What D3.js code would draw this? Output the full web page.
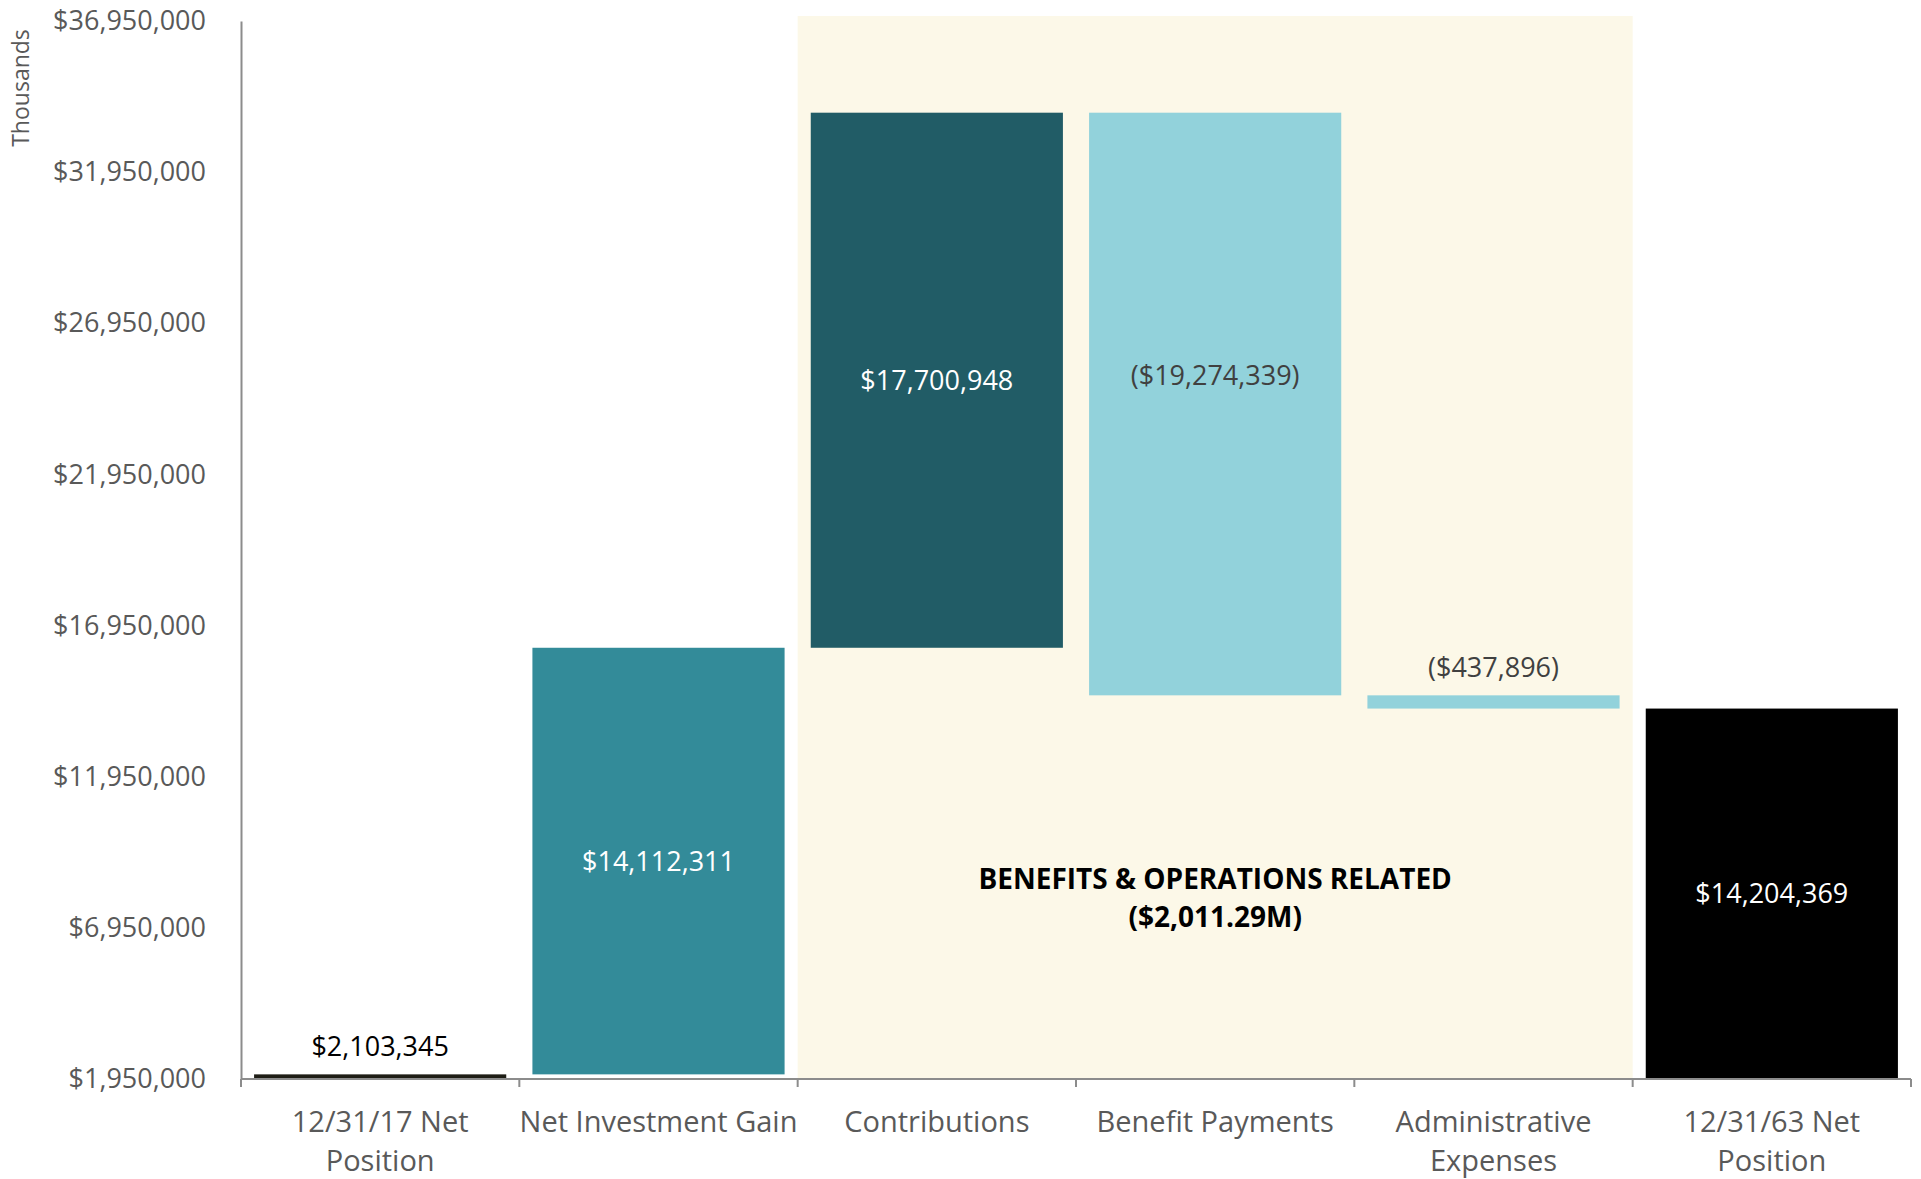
<!DOCTYPE html>
<html>
<head>
<meta charset="utf-8">
<script src="https://cdn.jsdelivr.net/npm/d3@7"></script>
<style>
  html, body { margin: 0; padding: 0; background: #ffffff; }
  svg { display: block; }
  text { font-family: "Open Sans", "Noto Sans", sans-serif; }
</style>
</head>
<body>
<svg id="chart" width="1921" height="1179"></svg>
<script>
// ---------- DATA ----------
const categories = ["12/31/17 Net Position", "Net Investment Gain", "Contributions", "Benefit Payments", "Administrative Expenses", "12/31/63 Net Position"];
const categoryLines = [["12/31/17 Net", "Position"], ["Net Investment Gain"], ["Contributions"], ["Benefit Payments"], ["Administrative", "Expenses"], ["12/31/63 Net", "Position"]];
const changes = [2103345, 14112311, 17700948, -19274339, -437896, 14204369];
const barKinds = ["total", "delta", "delta", "delta", "delta", "total"];
const barLabels = ["$2,103,345", "$14,112,311", "$17,700,948", "($19,274,339)", "($437,896)", "$14,204,369"];
const yTicks = [1950000, 6950000, 11950000, 16950000, 21950000, 26950000, 31950000, 36950000];
const yDomain = [1950000, 36950000];
const highlightCategories = ["Contributions", "Benefit Payments", "Administrative Expenses"];
const annotationLines = ["BENEFITS & OPERATIONS RELATED", "($2,011.29M)"];
const yAxisTitle = "Thousands";

// ---------- STYLE ----------
const barColors = ["#1e1d15", "#338b99", "#215c66", "#92d2db", "#92d2db", "#000000"];
const labelColors = ["#000000", "#ffffff", "#ffffff", "#404040", "#404040", "#ffffff"];
const labelPlacement = ["above", "center", "center", "centerHigh", "above", "center"];

// ---------- LAYOUT ----------
const svg = d3.select("#chart");
const mLeft = 241, mRight = 1911, mTop = 21, mBottom = 1079;

const x = d3.scaleBand().domain(categories).range([mLeft, mRight]).paddingInner(0.094).paddingOuter(0.047);
const y = d3.scaleLinear().domain(yDomain).range([mBottom, mTop]);

// compute waterfall segments
let running = 0;
const bars = categories.map((c, i) => {
  let y0, y1;
  if (barKinds[i] === "total") {
    y0 = yDomain[0]; y1 = (i === 0) ? changes[i] : running;
    running = (i === 0) ? changes[i] : running;
  } else {
    y0 = running; y1 = running + changes[i];
    running = y1;
  }
  return { cat: c, lo: Math.min(y0, y1), hi: Math.max(y0, y1), i };
});

// highlight background
const step = x.step();
const hlStart = x(highlightCategories[0]) - x.paddingInner() * step / 2;
const hlEnd = x(highlightCategories[highlightCategories.length - 1]) + x.bandwidth() + x.paddingInner() * step / 2;
svg.append("rect")
  .attr("x", hlStart).attr("y", mTop - 5)
  .attr("width", hlEnd - hlStart).attr("height", mBottom - mTop + 5)
  .attr("fill", "#fcf8e8");

// bars
svg.append("g").selectAll("rect").data(bars).join("rect")
  .attr("x", d => x(d.cat))
  .attr("y", d => y(d.hi))
  .attr("width", x.bandwidth())
  .attr("height", d => Math.max(1, y(d.lo) - y(d.hi)))
  .attr("fill", d => barColors[d.i]);

// bar labels
svg.append("g").selectAll("text").data(bars).join("text")
  .attr("x", d => x(d.cat) + x.bandwidth() / 2)
  .attr("y", d => {
    const p = labelPlacement[d.i];
    if (p === "above") return y(d.hi) - 28;
    if (p === "centerHigh") return (y(d.hi) + y(d.lo)) / 2 - 28;
    return (y(d.hi) + y(d.lo)) / 2;
  })
  .attr("dy", "0.35em")
  .attr("text-anchor", "middle")
  .attr("font-size", 27)
  .attr("fill", d => labelColors[d.i])
  .text(d => barLabels[d.i]);

// y axis
const yAxis = d3.axisLeft(y).tickValues(yTicks).tickSize(0).tickPadding(35)
  .tickFormat(d => "$" + d3.format(",")(d));
const gy = svg.append("g").attr("transform", `translate(${mLeft},0)`).call(yAxis);
gy.select(".domain").attr("stroke", "#8c8c8c").attr("stroke-width", 2);
gy.selectAll("text").attr("font-size", 27).attr("fill", "#595959")
  .attr("font-family", "'Open Sans', sans-serif");

// x axis
const xAxis = d3.axisBottom(x).tickSize(0).tickPadding(0).tickFormat("");
const gx = svg.append("g").attr("transform", `translate(0,${mBottom})`).call(xAxis);
gx.select(".domain").attr("d", `M${mLeft},0H${mRight}`).attr("stroke", "#8c8c8c").attr("stroke-width", 2);

// category boundary ticks
const boundaries = d3.range(categories.length + 1).map(k => mLeft + (mRight - mLeft) * k / categories.length);
svg.append("g").selectAll("line").data(boundaries).join("line")
  .attr("x1", d => d).attr("x2", d => d)
  .attr("y1", mBottom).attr("y2", mBottom + 8)
  .attr("stroke", "#8c8c8c").attr("stroke-width", 2);

// category labels
const catG = svg.append("g");
categories.forEach((c, i) => {
  const t = catG.append("text")
    .attr("x", x(c) + x.bandwidth() / 2)
    .attr("y", mBottom + 53)
    .attr("text-anchor", "middle")
    .attr("font-size", 29)
    .attr("fill", "#595959");
  categoryLines[i].forEach((line, j) => {
    t.append("tspan").attr("x", x(c) + x.bandwidth() / 2).attr("dy", j === 0 ? 0 : 39).text(line);
  });
});

// y axis title
svg.append("text")
  .attr("transform", `translate(29, ${mTop + 67}) rotate(-90)`)
  .attr("text-anchor", "middle")
  .attr("font-size", 23)
  .attr("fill", "#595959")
  .text(yAxisTitle);

// annotation
const ann = svg.append("text")
  .attr("x", (hlStart + hlEnd) / 2)
  .attr("y", 889)
  .attr("text-anchor", "middle")
  .attr("font-size", 28)
  .attr("font-weight", "bold")
  .attr("fill", "#000000");
annotationLines.forEach((line, j) => {
  ann.append("tspan").attr("x", (hlStart + hlEnd) / 2).attr("dy", j === 0 ? 0 : 38).text(line);
});
</script>
</body>
</html>
